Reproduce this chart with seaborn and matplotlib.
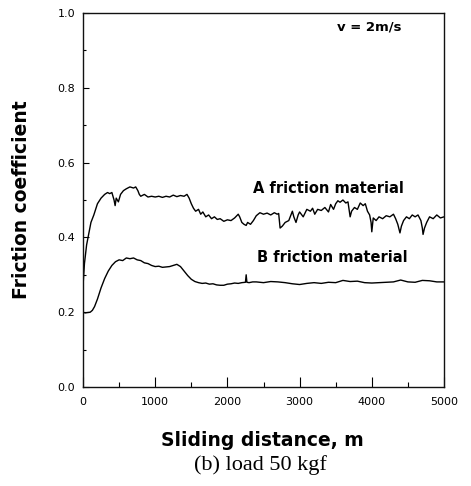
import matplotlib
matplotlib.use("Agg")
import matplotlib.pyplot as plt
import seaborn as sns
import pandas as pd

# ---------------- data ----------------
dist_a = [0, 20, 50, 80, 110, 150, 200, 250, 300, 340, 370, 400, 430, 445, 460, 490,
          520, 560, 600, 650, 700, 730, 760, 780, 800, 850, 900, 950, 1000, 1050,
          1100, 1150, 1200, 1250, 1300, 1350, 1400, 1440, 1470, 1500, 1530, 1560,
          1600, 1630, 1660, 1700, 1740, 1780, 1820, 1860, 1900, 1950, 2000, 2050,
          2100, 2150, 2170, 2200, 2230, 2260, 2280, 2320, 2360, 2400, 2450, 2500,
          2550, 2600, 2650, 2690, 2710, 2730, 2760, 2800, 2850, 2900, 2920, 2950,
          2980, 3000, 3050, 3100, 3150, 3180, 3210, 3250, 3300, 3350, 3400, 3430,
          3470, 3500, 3530, 3560, 3600, 3640, 3670, 3700, 3720, 3760, 3800, 3840,
          3880, 3910, 3940, 3970, 3990, 4000, 4020, 4060, 4100, 4150, 4200, 4250,
          4300, 4330, 4360, 4390, 4410, 4440, 4480, 4520, 4560, 4600, 4640, 4680,
          4700, 4710, 4730, 4760, 4800, 4850, 4900, 4950, 5000]
mu_a = [0.27, 0.33, 0.38, 0.41, 0.44, 0.46, 0.49, 0.505, 0.515, 0.52, 0.517, 0.52,
        0.50, 0.485, 0.505, 0.495, 0.515, 0.525, 0.53, 0.535, 0.532, 0.535, 0.525,
        0.515, 0.51, 0.515, 0.508, 0.51, 0.508, 0.51, 0.507, 0.51, 0.508, 0.513,
        0.509, 0.512, 0.51, 0.515, 0.505, 0.49, 0.478, 0.47, 0.475, 0.462, 0.468,
        0.455, 0.46, 0.45, 0.455, 0.448, 0.45, 0.443, 0.447, 0.445, 0.452, 0.462,
        0.455, 0.44, 0.435, 0.432, 0.44, 0.435, 0.445, 0.458, 0.466, 0.462, 0.465,
        0.46, 0.466, 0.462, 0.464, 0.425, 0.43, 0.44, 0.445, 0.47, 0.455, 0.44,
        0.46, 0.468, 0.455, 0.475, 0.47, 0.478, 0.462, 0.475, 0.472, 0.48, 0.468,
        0.488, 0.475, 0.49, 0.498, 0.494, 0.5, 0.492, 0.495, 0.455, 0.47, 0.48,
        0.475, 0.492, 0.485, 0.49, 0.47, 0.46, 0.44, 0.415, 0.452, 0.445, 0.455,
        0.45, 0.458, 0.455, 0.462, 0.45, 0.435, 0.412, 0.43, 0.445, 0.455, 0.45,
        0.46, 0.455, 0.46, 0.445, 0.425, 0.408, 0.425, 0.44, 0.455, 0.45, 0.46,
        0.452, 0.455]

dist_b = [0, 30, 60, 100, 130, 160, 200, 250, 300, 350, 400, 450, 500, 550, 600,
          650, 700, 750, 800, 850, 900, 950, 1000, 1050, 1100, 1150, 1200, 1250,
          1300, 1350, 1400, 1450, 1500, 1550, 1600, 1650, 1700, 1750, 1800, 1850,
          1900, 1950, 2000, 2050, 2100, 2150, 2200, 2250, 2260, 2270, 2300, 2350,
          2400, 2500, 2600, 2700, 2800, 2900, 3000, 3100, 3200, 3300, 3400, 3500,
          3600, 3700, 3800, 3900, 4000, 4100, 4200, 4300, 4400, 4500, 4600, 4700,
          4800, 4900, 5000]
mu_b = [0.20, 0.198, 0.199, 0.20, 0.205, 0.215, 0.235, 0.265, 0.29, 0.31, 0.325,
        0.335, 0.34, 0.338, 0.345, 0.343, 0.345, 0.34, 0.338, 0.332, 0.33, 0.325,
        0.322, 0.323, 0.32, 0.321, 0.322, 0.325, 0.328, 0.322, 0.31, 0.298, 0.288,
        0.282, 0.279, 0.277, 0.278, 0.275, 0.276, 0.273, 0.272, 0.272, 0.275,
        0.276, 0.278, 0.277, 0.279, 0.28, 0.30, 0.28, 0.279, 0.281, 0.281, 0.279,
        0.282, 0.281, 0.279, 0.276, 0.274, 0.277, 0.279, 0.277, 0.28, 0.279,
        0.285, 0.282, 0.283, 0.279, 0.278, 0.279, 0.28, 0.281, 0.286, 0.281,
        0.28, 0.285, 0.284, 0.281, 0.281]

x_ticks = [0, 1000, 2000, 3000, 4000, 5000]
y_ticks = [0.0, 0.2, 0.4, 0.6, 0.8, 1.0]
series_labels = ["A friction material", "B friction material"]

# ---------------- figure ----------------
sns.set_style("ticks")
plt.rcParams["font.family"] = ["DejaVu Sans"]
plt.rcParams["text.color"] = "black"
plt.rcParams["axes.labelcolor"] = "black"

fig = plt.figure(figsize=(4.71, 4.86), dpi=100)
ax = fig.add_axes([83 / 471, 1 - 387 / 486, (444 - 83) / 471, (387 - 13) / 486])

df_a = pd.DataFrame({"dist": dist_a, "mu": mu_a})
df_b = pd.DataFrame({"dist": dist_b, "mu": mu_b})
sns.lineplot(data=df_a, x="dist", y="mu", ax=ax, color="black", linewidth=1.0,
             estimator=None, sort=False)
sns.lineplot(data=df_b, x="dist", y="mu", ax=ax, color="black", linewidth=1.0,
             estimator=None, sort=False)

ax.set_xlim(0, 5000)
ax.set_ylim(0.0, 1.0)
ax.set_xticks(x_ticks)
ax.set_xticklabels([str(t) for t in x_ticks])
ax.set_yticks(y_ticks)
ax.set_yticklabels([f"{t:.1f}" for t in y_ticks])
ax.set_xticks([500, 1500, 2500, 3500, 4500], minor=True)
ax.set_yticks([0.1, 0.3, 0.5, 0.7, 0.9], minor=True)

ax.tick_params(axis="x", which="major", direction="in", length=7, width=0.8,
               pad=7, labelsize=8, colors="black")
ax.tick_params(axis="x", which="minor", direction="in", length=3.5, width=0.8,
               colors="black")
ax.tick_params(axis="y", which="major", direction="in", length=4, width=0.8,
               pad=5.5, labelsize=8, colors="black")
ax.tick_params(axis="y", which="minor", direction="in", length=2.5, width=0.8,
               colors="black")

for side in ["left", "right", "top", "bottom"]:
    ax.spines[side].set_visible(True)
    ax.spines[side].set_linewidth(1.0)
    ax.spines[side].set_color("#111111")

ax.set_xlabel("Sliding distance, m", fontsize=13.5, fontweight="bold",
              color="black")
ax.xaxis.label.set(va="center", ha="center")
ax.xaxis.set_label_coords((262 - 83) / 361, (387 - 440) / 374)
ax.set_ylabel("Friction coefficient", fontsize=13.5, fontweight="bold",
              color="black")
ax.yaxis.label.set(va="center", ha="center", rotation_mode="default")
ax.yaxis.set_label_coords((22 - 83) / 361, 0.5)

ax.text(3518, 0.963, "v = 2m/s", fontsize=9.5, fontweight="bold",
        ha="left", va="center", color="black")
ax.text(2354, 0.532, series_labels[0], fontsize=10.5, fontweight="bold",
        ha="left", va="center", color="black")
ax.text(2410, 0.345, series_labels[1], fontsize=10.5, fontweight="bold",
        ha="left", va="center", color="black")

fig.text(260 / 471, 1 - 465 / 486, "(b) load 50 kgf", fontsize=16,
         family=["Liberation Serif", "DejaVu Serif"], ha="center", va="center",
         color="black")

fig.savefig("out.png", dpi=100, facecolor="white")
